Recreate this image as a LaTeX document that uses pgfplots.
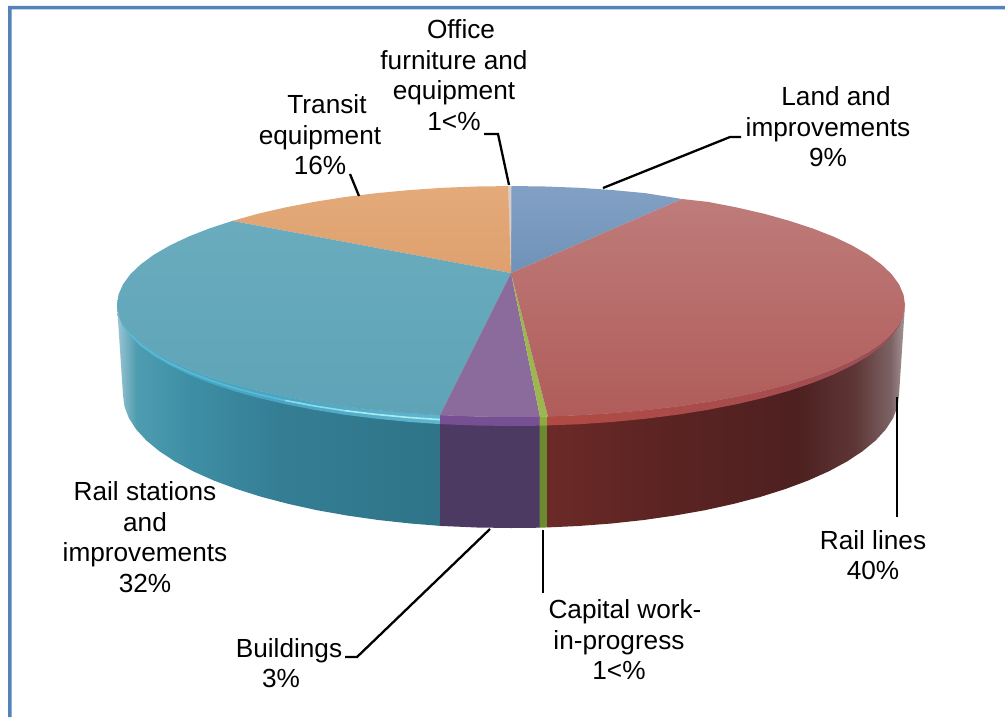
\documentclass[border=0pt]{standalone}
\usepackage{pgfplots}
\pgfplotsset{compat=1.18}
\usepackage{fontspec}
\setmainfont{Liberation Sans}
\definecolor{frame}{HTML}{5483BB}
\definecolor{ta}{HTML}{9CC6D2}\definecolor{tb}{HTML}{4E9CB0}\definecolor{tc}{HTML}{3E8FA5}\definecolor{td}{HTML}{347E94}\definecolor{te}{HTML}{2F7488}
\definecolor{ra}{HTML}{6C2A27}\definecolor{rb}{HTML}{5C2423}\definecolor{rc}{HTML}{4E2020}\definecolor{rd}{HTML}{5E3636}\definecolor{re}{HTML}{7D6264}\definecolor{rf}{HTML}{A59697}
\definecolor{tra}{HTML}{4AA8C4}\definecolor{trb}{HTML}{4AA4C2}\definecolor{trc}{HTML}{5FB6CE}
\definecolor{rra}{HTML}{9A5058}\definecolor{rrb}{HTML}{A84C4E}\definecolor{rrc}{HTML}{B04A42}
\pgfdeclarehorizontalshading{tealside}{100bp}{color(0bp)=(ta);color(25bp)=(ta);color(28bp)=(tb);color(36bp)=(tc);color(50bp)=(td);color(75bp)=(te);color(100bp)=(te)}
\pgfdeclarehorizontalshading{redside}{100bp}{color(0bp)=(ra);color(25bp)=(ra);color(40bp)=(rb);color(60bp)=(rc);color(68bp)=(rd);color(73bp)=(re);color(75bp)=(rf);color(100bp)=(rf)}
\pgfdeclarehorizontalshading{tealrim}{100bp}{color(0bp)=(tra);color(25bp)=(tra);color(50bp)=(trb);color(75bp)=(trc);color(100bp)=(trc)}
\pgfdeclarehorizontalshading{redrim}{100bp}{color(0bp)=(rrc);color(25bp)=(rrc);color(55bp)=(rrb);color(75bp)=(rra);color(100bp)=(rra)}
\tikzset{lab/.style={font=\fontsize{26.3pt}{30.6pt}\selectfont,align=center,text=black,inner sep=0pt,outer sep=0pt}}
\begin{document}
\begin{tikzpicture}
\begin{axis}[width=1005bp,height=717bp,scale only axis,xmin=0,xmax=1005,ymin=0,ymax=717,y dir=reverse,axis lines=none,no markers]
% page background
\addplot[fill=white,draw=none] coordinates {(0,0)(1005,0)(1005,717)(0,717)} --cycle;
% frame
\addplot[fill=frame,draw=none] coordinates {(8,6)(1005,6)(1005,9.5)(11.7,9.5)(11.7,717)(8,717)} --cycle;
% side: rail stations
\addplot[draw=none,shade,shading=tealside] coordinates {(117,305)(118.5,314.8)(123,324.4)(130.4,334)(140.8,343.3)(153.9,352.3)(169.8,361)(188.3,369.2)(209.2,377)(232.4,384.2)(257.7,390.8)(285,396.7)(314,402)(344.5,406.5)(376.2,410.2)(409,413.2)(440.5,415.2)(440.5,525.9)(410.6,523.5)(378.3,520)(347,515.5)(317,510.2)(288.5,503.9)(261.6,496.9)(236.6,489)(213.8,480.5)(193.2,471.3)(175,461.5)(159.4,451.2)(146.4,440.5)(136.2,429.4)(128.9,418.1)(124.5,406.6)(123,395)} --cycle;
% side: buildings
\addplot[draw=none,fill={rgb,255:red,77;green,58;blue,98}] coordinates {(440,415.2)(476.7,416.6)(511,417)(540,416.8)(540,527.7)(511,528)(477.2,527.5)(440,525.9)} --cycle;
% side: capital work
\addplot[draw=none,fill={rgb,255:red,108;green,138;blue,48}] coordinates {(539.5,416.8)(548,416.5)(548,527.4)(539.5,527.7)} --cycle;
% side: rail lines
\addplot[draw=none,shade,shading=redside] coordinates {(547.5,416.5)(579.4,415.3)(613,413.2)(645.8,410.2)(677.5,406.5)(708,402)(737,396.7)(764.3,390.8)(789.6,384.2)(812.8,377)(833.7,369.2)(852.2,361)(868.1,352.3)(881.2,343.3)(891.6,334)(899,324.4)(903.5,314.8)(905,305)(899,395)(897.5,406.6)(893.1,418.1)(885.8,429.4)(875.6,440.5)(862.6,451.2)(847,461.5)(828.8,471.3)(808.2,480.5)(785.4,489)(760.4,496.9)(733.5,503.9)(705,510.2)(675,515.5)(643.7,520)(611.4,523.5)(578.4,526)(547.5,527.4)} --cycle;
% rims
\addplot[draw=none,shade,shading=tealrim] coordinates {(117,305)(118.5,314.8)(123,324.4)(130.4,334)(140.8,343.3)(153.9,352.3)(169.8,361)(188.3,369.2)(209.2,377)(232.4,384.2)(257.7,390.8)(285,396.7)(314,402)(344.5,406.5)(376.2,410.2)(409,413.2)(440,415.2)(440,424.1)(409,421.9)(376.2,418.7)(344.5,414.7)(314,409.8)(285,404.1)(257.7,397.7)(232.4,390.6)(209.2,382.8)(188.3,374.4)(169.8,365.5)(153.9,356.1)(140.8,346.4)(130.4,336.3)(123,326)(118.5,315.5)} --cycle;
\addplot[draw=none,fill={rgb,255:red,118;green,80;blue,146}] coordinates {(440,415.2)(476.7,416.6)(511,417)(540,416.8)(540,425.7)(511,426)(476.7,425.5)(440,424.1)} --cycle;
\addplot[draw=none,fill={rgb,255:red,140;green,170;blue,64}] coordinates {(539.5,416.8)(548,416.5)(548,425.4)(539.5,425.7)} --cycle;
\addplot[draw=none,shade,shading=redrim] coordinates {(547.5,416.5)(579.4,415.3)(613,413.2)(645.8,410.2)(677.5,406.5)(708,402)(737,396.7)(764.3,390.8)(789.6,384.2)(812.8,377)(833.7,369.2)(852.2,361)(868.1,352.3)(881.2,343.3)(891.6,334)(899,324.4)(903.5,314.8)(905,305)(903.5,315.5)(899,326)(891.6,336.3)(881.2,346.4)(868.1,356.1)(852.2,365.5)(833.7,374.4)(812.8,382.8)(789.6,390.6)(764.3,397.7)(737,404.1)(708,409.8)(677.5,414.7)(645.8,418.7)(613,421.9)(579.4,424.2)(547.5,425.4)} --cycle;
% rim highlights
\addplot[line width=1.6bp,color={rgb,255:red,86;green,188;blue,216}] coordinates {(123,325)(130.4,335)(140.8,344.8)(153.9,354.2)(169.8,363.2)(188.3,371.8)(209.2,379.9)(232.4,387.4)(257.7,394.2)(285,400.4)};
\addplot[line width=1.6bp,color={rgb,255:red,140;green,220;blue,235}] coordinates {(285,400.4)(314,405.9)(344.5,410.6)};
\addplot[line width=1.6bp,color={rgb,255:red,170;green,235;blue,242}] coordinates {(344.5,410.6)(376.2,414.4)(409,417.5)(440,419.6)};
% top faces
\addplot[draw=none,top color={rgb,255:red,130;green,160;blue,196},bottom color={rgb,255:red,112;green,146;blue,184}] coordinates {(511,273)(511,186)(545.3,186.5)(579.4,187.8)(613,190.1)(645.8,193.2)(682,199)} --cycle;
\addplot[draw=none,fill={rgb,255:red,218;green,205;blue,200}] coordinates {(511,273)(507.5,186)(511.5,186)} --cycle;
\addplot[draw=none,top color={rgb,255:red,228;green,170;blue,122},bottom color={rgb,255:red,222;green,160;blue,110}] coordinates {(511,273)(508,186.1)(476.7,186.5)(442.6,187.8)(409,190.1)(376.2,193.2)(344.5,197.1)(314,201.9)(285,207.5)(257.7,213.8)(232.4,220.9)} --cycle;
\addplot[draw=none,top color={rgb,255:red,106;green,172;blue,190},bottom color={rgb,255:red,94;green,163;blue,183}] coordinates {(511,273)(232.4,220.9)(209.2,228.5)(188.3,236.7)(169.8,245.5)(153.9,254.7)(140.8,264.3)(130.4,274.2)(123,284.3)(118.5,294.6)(117,305)(118.5,314.8)(123,324.4)(130.4,334)(140.8,343.3)(153.9,352.3)(169.8,361)(188.3,369.2)(209.2,377)(232.4,384.2)(257.7,390.8)(285,396.7)(314,402)(344.5,406.5)(376.2,410.2)(409,413.2)(440,415.2)} --cycle;
\addplot[draw=none,fill={rgb,255:red,138;green,107;blue,155}] coordinates {(511,273)(540,416.8)(511,417)(476.7,416.6)(440,415.2)} --cycle;
\addplot[draw=none,fill={rgb,255:red,156;green,182;blue,80}] coordinates {(511,273)(548,416.5)(540,416.8)} --cycle;
\addplot[draw=none,top color={rgb,255:red,190;green,124;blue,122},bottom color={rgb,255:red,176;green,92;blue,90}] coordinates {(511,273)(682,199)(708,201.9)(737,207.5)(764.3,213.8)(789.6,220.9)(812.8,228.5)(833.7,236.7)(852.2,245.5)(868.1,254.7)(881.2,264.3)(891.6,274.2)(899,284.3)(903.5,294.6)(905,305)(903.5,314.8)(899,324.4)(891.6,334)(881.2,343.3)(868.1,352.3)(852.2,361)(833.7,369.2)(812.8,377)(789.6,384.2)(764.3,390.8)(737,396.7)(708,402)(677.5,406.5)(645.8,410.2)(613,413.2)(579.4,415.3)(548,416.5)} --cycle;
% leader lines
\addplot[black,line width=2.3bp] coordinates {(603,188)(730,137)(741,137)};
\addplot[black,line width=2.3bp] coordinates {(509,185)(498,134)(484,134)};
\addplot[black,line width=2.3bp] coordinates {(359,196)(350,174)};
\addplot[black,line width=2.3bp] coordinates {(897,397)(897,517)};
\addplot[black,line width=2.3bp] coordinates {(543,530)(543,593)};
\addplot[black,line width=2.3bp] coordinates {(490,529)(357,657)(345,657)};
% labels
\node[lab] at (axis cs:454,75) {\hspace*{14bp}Office\\furniture and\\equipment\\1<\%};
\node[lab] at (axis cs:828,127) {\hspace*{16bp}Land and\\improvements\\9\%};
\node[lab] at (axis cs:320,135) {\hspace*{14bp}Transit\\equipment\\16\%};
\node[lab] at (axis cs:873,555) {Rail lines\\40\%};
\node[lab] at (axis cs:619,640) {\hspace*{12bp}Capital work-\\in-progress\\1<\%};
\node[lab] at (axis cs:281,663) {\hspace*{16bp}Buildings\\3\%};
\node[lab] at (axis cs:145,537) {Rail stations\\and\\improvements\\32\%};
\end{axis}
\end{tikzpicture}
\end{document}
